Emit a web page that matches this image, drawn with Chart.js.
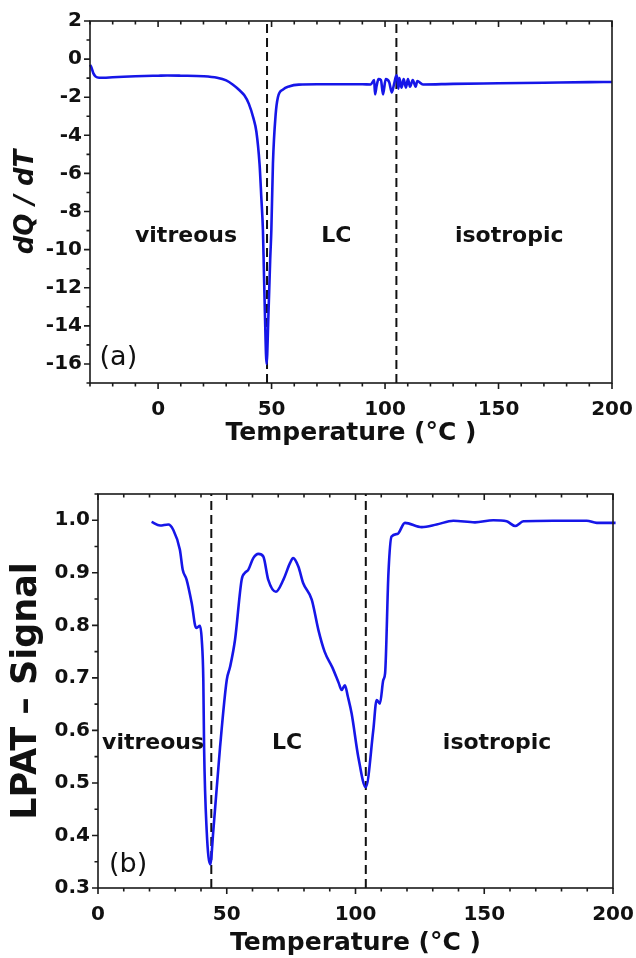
<!DOCTYPE html>
<html lang="en">
<head>
  <meta charset="UTF-8">
  <title>DSC and LPAT signal</title>
  <script src="https://cdn.jsdelivr.net/npm/chart.js"></script>
  <style>
    body {
      margin: 0;
      background: #fff;
      width: 636px;
      height: 958px;
      overflow: hidden;
      position: relative;
    }
    .panel {
      position: absolute;
      left: 0;
      width: 636px;
    }
    #panelA { top: 0; height: 460px; }
    #panelB { top: 460px; height: 498px; }
  </style>
</head>
<body>

  <div class="panel" id="panelA"><canvas id="dscChart"></canvas></div>
  <div class="panel" id="panelB"><canvas id="lpatChart"></canvas></div>

  <script>
    // (a) DSC curve, dQ/dT vs temperature
    const dscTemp = [-30, -29.5, -28.5, -27.5, -26, -24, -20, -10, 0, 4,
      10, 20, 26, 30, 33, 36, 38, 40, 42, 43.3,
      44.7, 45.5, 46.2, 46.6, 47.1, 47.8, 48.6, 49.4, 49.9, 50.6,
      51.8, 52.8, 55, 58, 62, 70, 80, 90, 93.7, 95.2,
      95.6, 96.3, 97.1, 98.2, 99.1, 100.3, 101.8, 103, 104, 105,
      105.4, 105.9, 106.3, 107.3, 108.2, 109.2, 110.1, 111, 112.2, 113.5,
      114.2, 116.7, 130, 150, 170, 190, 200];
    const dscVal = [-0.3, -0.4, -0.75, -0.92, -0.98, -0.98, -0.95, -0.9, -0.87, -0.86,
      -0.87, -0.9, -0.98, -1.12, -1.35, -1.65, -1.9, -2.35, -3.1, -3.8,
      -5.5, -7.3, -9.0, -11, -13.5, -16, -13.5, -10.5, -9.0, -5.5,
      -2.9, -2.0, -1.6, -1.42, -1.34, -1.32, -1.32, -1.32, -1.33, -1.1,
      -1.85, -1.4, -1.05, -1.1, -1.85, -1.05, -1.2, -1.75, -1.3, -0.85,
      -1.0, -1.55, -1.0, -1.5, -1.05, -1.5, -1.05, -1.45, -1.1, -1.45,
      -1.15, -1.33, -1.3, -1.27, -1.24, -1.21, -1.2];
    const dscTransitions = [48, 105];
    const dscXTicks = [0, 50, 100, 150, 200];
    const dscYTicks = [-16, -14, -12, -10, -8, -6, -4, -2, 0, 2];

    // (b) LPAT signal vs temperature
    const lpatTemp = [20.8, 24.1, 27.3, 29.2, 31.8, 32.9, 34.4, 36.4, 38.1, 39.6,
      40.3, 40.9, 41.2, 42.2, 43.6, 44.8, 47.4, 50, 51.3, 53.2,
      55.8, 57.1, 58.4, 60.3, 62.3, 64.2, 66.1, 69.1, 72, 74.6,
      75.8, 77.8, 79.7, 83, 85.6, 88, 91, 93.5, 94.6, 95.9,
      97, 98.5, 101.1, 104, 106.9, 108.2, 109.5, 110.8, 111.5, 112.8,
      114, 116.3, 119.2, 125.7, 131.5, 138, 146.4, 153.5, 158.7, 162,
      165.2, 176.8, 189.8, 193.7, 201];
    const lpatVal = [0.997, 0.99, 0.992, 0.982, 0.944, 0.906, 0.887, 0.842, 0.795, 0.799,
      0.772, 0.696, 0.568, 0.41, 0.345, 0.41, 0.568, 0.696, 0.721, 0.772,
      0.887, 0.9, 0.906, 0.928, 0.936, 0.931, 0.887, 0.864, 0.887, 0.919,
      0.928, 0.912, 0.88, 0.849, 0.791, 0.75, 0.72, 0.69, 0.677, 0.686,
      0.665, 0.632, 0.549, 0.492, 0.6, 0.658, 0.651, 0.696, 0.709, 0.9,
      0.969, 0.974, 0.995, 0.987, 0.992, 0.999, 0.996, 1.0, 0.998, 0.989,
      0.998, 0.999, 0.999, 0.995, 0.995];
    const lpatTransitions = [44, 104];
    const lpatXTicks = [0, 50, 100, 150, 200];
    const lpatYTicks = [0.3, 0.4, 0.5, 0.6, 0.7, 0.8, 0.9, 1.0];

    const phaseNames = ["vitreous", "LC", "isotropic"];
    const dscPhaseX = [12.3, 78.5, 154.7];
    const lpatPhaseX = [21.4, 73.4, 155];

    const INK = "#111";
    const BLUE = "rgb(22,22,232)";
    const FONT = "'DejaVu Sans', 'Liberation Sans', Arial, sans-serif";

    // box around the plot with outward ticks (left, bottom) and inward ticks on top
    const framePlugin = {
      id: "frame",
      afterDatasetsDraw(chart, args, opts) {
        const { ctx, chartArea: a, scales: { x, y } } = chart;
        ctx.save();
        ctx.strokeStyle = "#1a1a1a";
        ctx.lineWidth = 1.6;
        ctx.strokeRect(a.left, a.top, a.right - a.left, a.bottom - a.top);
        ctx.beginPath();
        const nx = Math.round((x.max - x.min) / opts.xStep);
        for (let i = 0; i <= nx; i++) {
          const v = x.min + i * opts.xStep;
          const px = x.getPixelForValue(v);
          const q = v / opts.xMajor;
          const len = Math.abs(q - Math.round(q)) < 1e-6 ? 6 : 3.5;
          ctx.moveTo(px, a.bottom); ctx.lineTo(px, a.bottom + len);
          ctx.moveTo(px, a.top); ctx.lineTo(px, a.top + len);
        }
        const ny = Math.round((y.max - y.min) / opts.yStep);
        for (let i = 0; i <= ny; i++) {
          const v = y.min + i * opts.yStep;
          const py = y.getPixelForValue(v);
          const q = v / opts.yMajor;
          const len = Math.abs(q - Math.round(q)) < 1e-6 ? 6 : 3.5;
          ctx.moveTo(a.left, py); ctx.lineTo(a.left - len, py);
        }
        ctx.stroke();
        ctx.restore();
      }
    };

    // phase names and panel letter, placed in data coordinates
    const textPlugin = {
      id: "phaseText",
      afterDatasetsDraw(chart, args, opts) {
        const { ctx, scales: { x, y } } = chart;
        ctx.save();
        ctx.textAlign = "center";
        ctx.textBaseline = "middle";
        ctx.fillStyle = INK;
        opts.items.forEach(it => {
          ctx.font = it.font;
          ctx.fillText(it.text, x.getPixelForValue(it.x), y.getPixelForValue(it.y));
        });
        ctx.restore();
      }
    };

    function dashedLines(temps, ymin, ymax) {
      return temps.map(t => ({
        data: [{ x: t, y: ymin }, { x: t, y: ymax }],
        borderColor: INK,
        borderWidth: 2,
        borderDash: [9, 5],
        pointRadius: 0
      }));
    }

    function makeChart(id, cfg) {
      return new Chart(document.getElementById(id), {
        type: "line",
        data: {
          datasets: [{
            data: cfg.temps.map((t, i) => ({ x: t, y: cfg.vals[i] })),
            borderColor: BLUE,
            borderWidth: 2.6,
            pointRadius: 0,
            cubicInterpolationMode: "monotone",
            clip: 4
          }].concat(dashedLines(cfg.transitions, cfg.ymin, cfg.ymax))
        },
        options: {
          responsive: true,
          maintainAspectRatio: false,
          animation: false,
          layout: { padding: cfg.padding },
          plugins: {
            legend: { display: false },
            tooltip: { enabled: false },
            frame: { xStep: 10, xMajor: 50, yStep: cfg.yStep, yMajor: cfg.yMajor },
            phaseText: { items: cfg.texts }
          },
          scales: {
            x: {
              type: "linear",
              min: cfg.xmin,
              max: 200,
              afterBuildTicks: s => { s.ticks = cfg.xTicks.map(v => ({ value: v })); },
              afterFit: s => {
                s.height = cfg.xHeight;
                s.paddingLeft = 0;
                s.paddingRight = 0;
              },
              grid: { display: false, drawTicks: false },
              border: { display: false },
              ticks: {
                color: INK,
                padding: 15,
                maxRotation: 0,
                font: { family: FONT, weight: "bold", size: 20 },
                callback: v => String(v)
              },
              title: {
                display: true,
                text: "Temperature (°C )",
                color: INK,
                font: { family: FONT, weight: "bold", size: 25 },
                padding: { top: 0, bottom: cfg.xTitlePad }
              }
            },
            y: {
              min: cfg.ymin,
              max: cfg.ymax,
              afterBuildTicks: s => { s.ticks = cfg.yTicks.map(v => ({ value: v })); },
              afterFit: s => {
                s.width = cfg.yWidth;
                s.paddingTop = 0;
                s.paddingBottom = 0;
              },
              grid: { display: false, drawTicks: false },
              border: { display: false },
              ticks: {
                color: INK,
                padding: 8,
                font: { family: FONT, weight: "bold", size: 20 },
                callback: cfg.yFormat
              },
              title: {
                display: true,
                text: cfg.yTitle,
                color: INK,
                font: cfg.yTitleFont,
                padding: { top: cfg.yTitlePad, bottom: 0 }
              }
            }
          }
        },
        plugins: [framePlugin, textPlugin]
      });
    }

    const phaseFont = "bold 22px " + FONT;
    const letterFont = "27px " + FONT;

    makeChart("dscChart", {
      temps: dscTemp, vals: dscVal, transitions: dscTransitions,
      xmin: -30, ymin: -17, ymax: 2,
      xTicks: dscXTicks, yTicks: dscYTicks,
      yStep: 1, yMajor: 2,
      padding: { left: 0, top: 21, right: 24, bottom: 0 },
      xHeight: 77, yWidth: 90, xTitlePad: 12, yTitlePad: 11,
      yTitle: "dQ / dT",
      yTitleFont: { family: FONT, weight: "bold", style: "italic", size: 26 },
      yFormat: v => String(v),
      texts: phaseNames.map((t, i) => ({ text: t, x: dscPhaseX[i], y: -9.3, font: phaseFont }))
        .concat([{ text: "(a)", x: -17.5, y: -15.7, font: letterFont }])
    });

    makeChart("lpatChart", {
      temps: lpatTemp, vals: lpatVal, transitions: lpatTransitions,
      xmin: 0, ymin: 0.3, ymax: 1.05,
      xTicks: lpatXTicks, yTicks: lpatYTicks,
      yStep: 0.05, yMajor: 0.1,
      padding: { left: 0, top: 34, right: 23, bottom: 0 },
      xHeight: 70, yWidth: 98, xTitlePad: 0, yTitlePad: 6,
      yTitle: "LPAT – Signal",
      yTitleFont: { family: FONT, weight: "bold", size: 35 },
      yFormat: v => v.toFixed(1),
      texts: phaseNames.map((t, i) => ({ text: t, x: lpatPhaseX[i], y: 0.575, font: phaseFont }))
        .concat([{ text: "(b)", x: 11.7, y: 0.343, font: letterFont }])
    });
  </script>

</body>
</html>
